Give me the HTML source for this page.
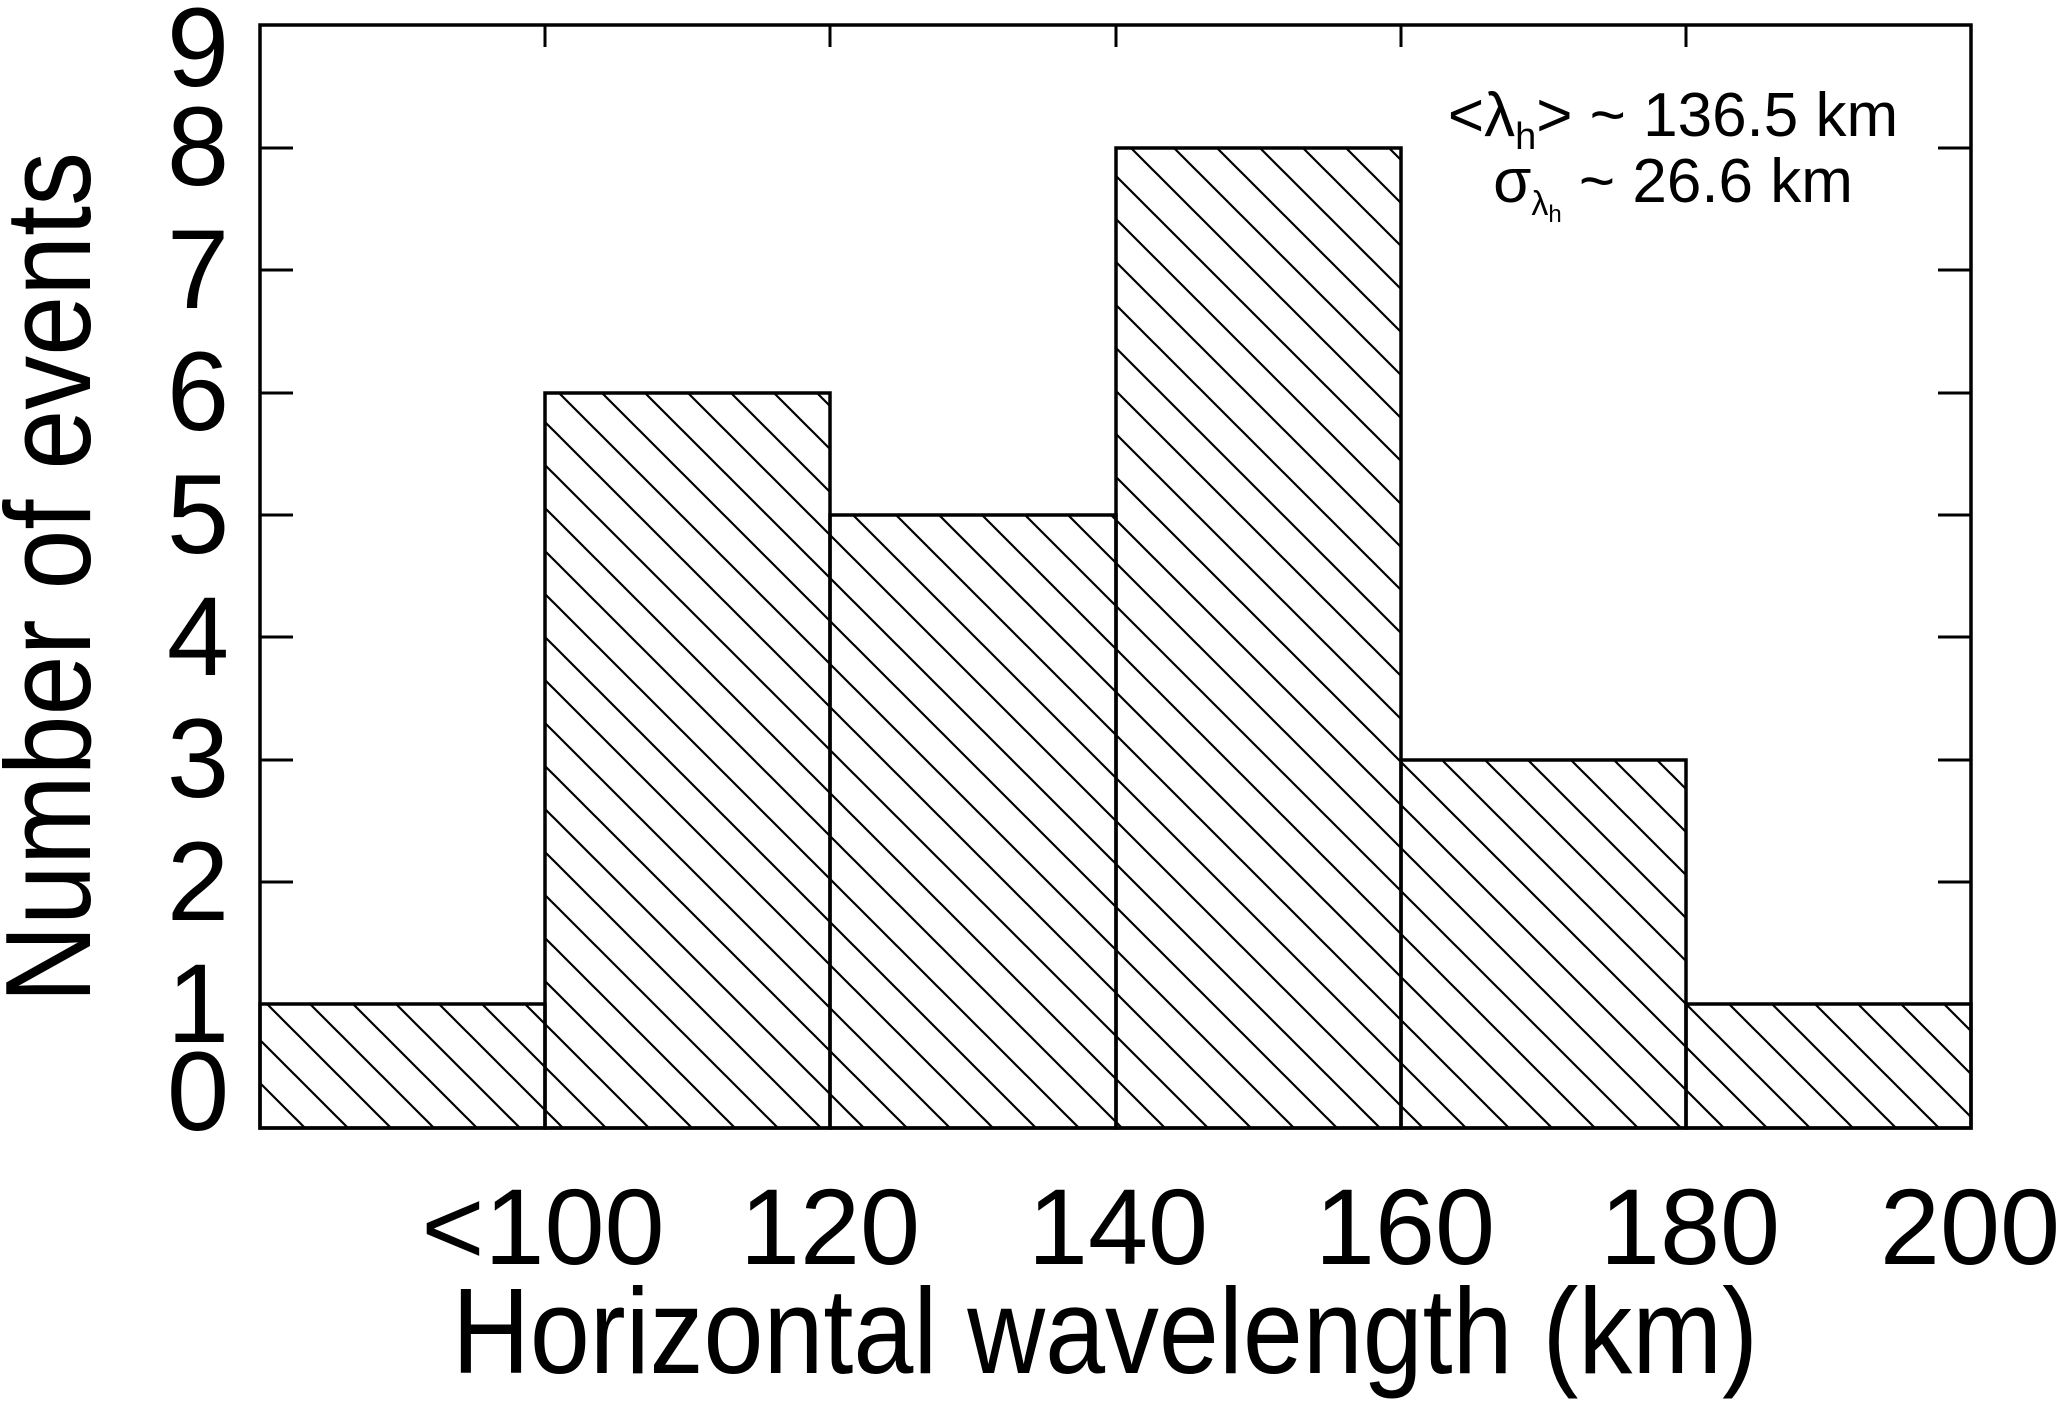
<!DOCTYPE html>
<html><head><style>html,body{margin:0;padding:0;background:#fff}svg{display:block}</style></head>
<body>
<svg width="2067" height="1414" viewBox="0 0 2067 1414" xmlns="http://www.w3.org/2000/svg" font-family="'Liberation Sans', sans-serif">
<defs>
<pattern id="h" patternUnits="userSpaceOnUse" width="43" height="43" patternTransform="translate(37,0)">
<line x1="-5" y1="-5" x2="48" y2="48" stroke="#000" stroke-width="2.2"/>
<line x1="-48" y1="-5" x2="5" y2="48" stroke="#000" stroke-width="2.2"/>
<line x1="38" y1="-5" x2="91" y2="48" stroke="#000" stroke-width="2.2"/>
</pattern>
</defs>
<g stroke="#000" stroke-width="3.5" fill="url(#h)">
<rect x="260" y="1004" width="285" height="124"/>
<rect x="545" y="393" width="285" height="735"/>
<rect x="830" y="515" width="286" height="613"/>
<rect x="1116" y="148" width="285" height="980"/>
<rect x="1401" y="760" width="285" height="368"/>
<rect x="1686" y="1004" width="285" height="124"/>
</g>
<rect x="260" y="25" width="1711" height="1103" fill="none" stroke="#000" stroke-width="3.5"/>
<g stroke="#000" stroke-width="3">
<line x1="260" y1="148" x2="293" y2="148"/><line x1="260" y1="270" x2="293" y2="270"/><line x1="260" y1="393" x2="293" y2="393"/>
<line x1="260" y1="515" x2="293" y2="515"/><line x1="260" y1="637" x2="293" y2="637"/><line x1="260" y1="760" x2="293" y2="760"/>
<line x1="260" y1="882" x2="293" y2="882"/><line x1="260" y1="1004" x2="293" y2="1004"/>
<line x1="1971" y1="148" x2="1938" y2="148"/><line x1="1971" y1="270" x2="1938" y2="270"/><line x1="1971" y1="393" x2="1938" y2="393"/>
<line x1="1971" y1="515" x2="1938" y2="515"/><line x1="1971" y1="637" x2="1938" y2="637"/><line x1="1971" y1="760" x2="1938" y2="760"/>
<line x1="1971" y1="882" x2="1938" y2="882"/><line x1="1971" y1="1004" x2="1938" y2="1004"/>
<line x1="545" y1="25" x2="545" y2="47"/><line x1="830" y1="25" x2="830" y2="47"/><line x1="1116" y1="25" x2="1116" y2="47"/><line x1="1401" y1="25" x2="1401" y2="47"/><line x1="1686" y1="25" x2="1686" y2="47"/>
</g>
<g font-size="112" text-anchor="middle">
<text x="198" y="86">9</text><text x="198" y="185">8</text><text x="198" y="308">7</text><text x="198" y="430">6</text>
<text x="198" y="553">5</text><text x="198" y="675">4</text><text x="198" y="797">3</text><text x="198" y="920">2</text>
<text x="198" y="1042">1</text><text x="198" y="1130">0</text>
</g>
<g font-size="108" text-anchor="middle">
<text x="543" y="1264">&lt;100</text><text x="830" y="1264">120</text><text x="1118" y="1264">140</text>
<text x="1405" y="1264">160</text><text x="1690" y="1264">180</text><text x="1970" y="1264">200</text>
</g>
<text x="452" y="1373" font-size="122" textLength="1306" lengthAdjust="spacingAndGlyphs">Horizontal wavelength (km)</text>
<text transform="translate(90,1003) rotate(-90)" font-size="122" textLength="851" lengthAdjust="spacingAndGlyphs">Number of events</text>
<text x="1673" y="136" font-size="62" text-anchor="middle">&lt;λ<tspan font-size="38" dy="13">h</tspan><tspan dy="-13">&gt; ~ 136.5 km</tspan></text>
<text x="1673" y="202" font-size="62" text-anchor="middle">σ<tspan font-size="34" dy="13">λ</tspan><tspan font-size="24" dy="7">h</tspan><tspan dy="-20"> ~ 26.6 km</tspan></text>
</svg>
</body></html>
